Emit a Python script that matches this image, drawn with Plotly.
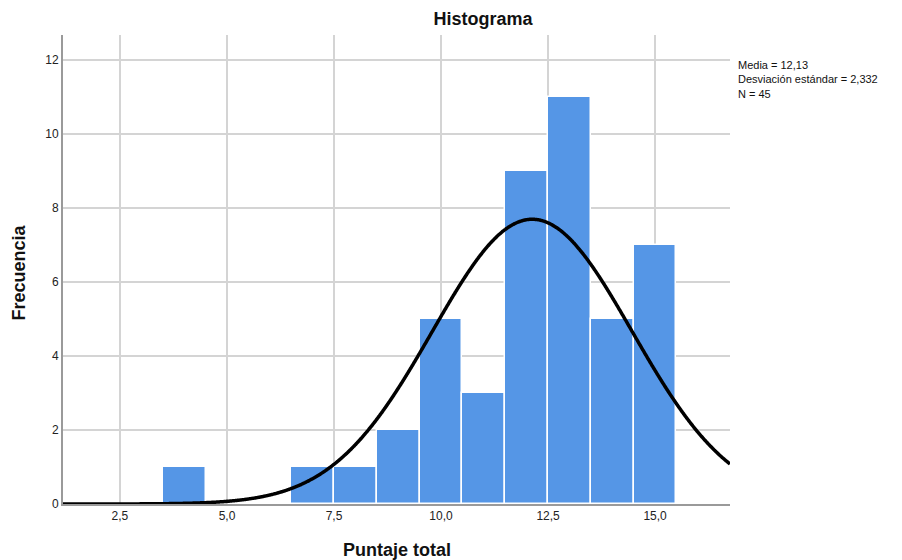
import numpy as np
import plotly.graph_objects as go

# Data
bin_centers = [4, 7, 8, 9, 10, 11, 12, 13, 14, 15]
frequencies = [1, 1, 1, 2, 5, 3, 9, 11, 5, 7]
media = 12.13
desviacion = 2.332
n_total = 45
bin_width = 1.0
x_ticks = [2.5, 5.0, 7.5, 10.0, 12.5, 15.0]
y_ticks = [0, 2, 4, 6, 8, 10, 12]

x_min, x_max = 1.17, 16.75

# Normal curve scaled to the counts (from stated mean/sd/N)
xc = np.linspace(x_min, x_max, 800)
yc = n_total * bin_width / (desviacion * np.sqrt(2 * np.pi)) * np.exp(-0.5 * ((xc - media) / desviacion) ** 2)

fig = go.Figure()
fig.add_trace(go.Bar(
    x=bin_centers, y=frequencies, width=bin_width,
    marker=dict(color="#5596e6", line=dict(color="white", width=1.5)),
    hoverinfo="x+y", showlegend=False,
))
fig.add_trace(go.Scatter(
    x=xc, y=yc, mode="lines", line=dict(color="black", width=3.5, shape="spline"),
    showlegend=False, hoverinfo="skip",
))

title_font = dict(family="Liberation Sans, Arial, sans-serif", size=18, color="#111111")

# page body has an 8px margin, so the figure is offset by (8, 8)
fig.update_layout(
    width=902, height=560,
    margin=dict(l=55, r=180, t=27, b=64, autoexpand=False),
    plot_bgcolor="white", paper_bgcolor="white",
    separators=",.",
    font=dict(family="Liberation Sans, Arial, sans-serif", size=12, color="#222222"),
    title=dict(text="<b>Histograma</b>", x=475 / 902, xref="container", xanchor="center",
               y=1 - 11 / 560, yref="container", yanchor="middle", font=title_font),
    bargap=0,
    xaxis=dict(
        range=[x_min, x_max], tickvals=x_ticks, tickformat=".1f",
        showgrid=True, gridcolor="#d4d4d4", gridwidth=1.5,
        showline=True, linecolor="#9a9a9a", linewidth=2,
        zeroline=False, ticks="", tickfont=dict(size=12, color="#222222"),
        automargin=False,
    ),
    yaxis=dict(
        range=[0, 12.68], tickvals=y_ticks,
        showgrid=True, gridcolor="#d4d4d4", gridwidth=1.5,
        showline=True, linecolor="#9a9a9a", linewidth=2,
        zeroline=False, ticks="", tickfont=dict(size=12, color="#222222"),
        automargin=False,
    ),
)
fig.add_annotation(
    text=f"Media = {media:.2f}".replace(".", ",") + "<br>" +
         f"Desviación estándar = {desviacion:.3f}".replace(".", ",") + "<br>" +
         f"N = {n_total}",
    x=1.0, xref="paper", xanchor="left", xshift=6,
    y=12.08, yref="y", yanchor="top",
    showarrow=False, align="left",
    font=dict(size=11, color="#111111"),
)
fig.add_annotation(text="<b>Puntaje total</b>", xref="paper", x=0.5, xanchor="center",
                   yref="paper", y=0, yanchor="middle", yshift=-46,
                   showarrow=False, font=title_font)
fig.add_annotation(text="<b>Frecuencia</b>", xref="paper", x=0, xanchor="center",
                   yref="paper", y=0.5, yanchor="middle", xshift=-45, yshift=-3, textangle=-90,
                   showarrow=False, font=title_font)

fig.write_html("out.html")
